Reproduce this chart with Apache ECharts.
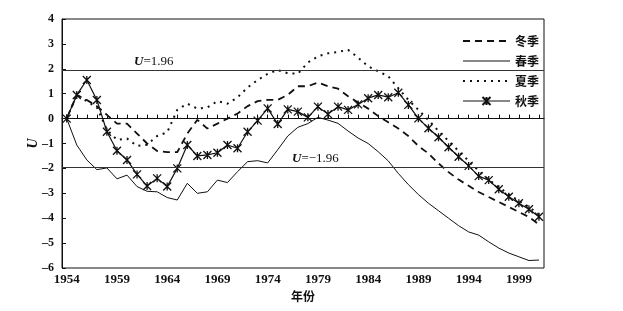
<!DOCTYPE html>
<html>
<head>
<meta charset="utf-8">
<script src="https://cdn.jsdelivr.net/npm/echarts@6/dist/echarts.min.js"></script>
<style>
html, body { margin: 0; padding: 0; background: #fff; }
#chart { width: 623px; height: 311px; }
</style>
</head>
<body>
<div id="chart"></div>
<script>
// 年份 1954-2001
var years = [];
for (var y = 1954; y <= 2001; y++) years.push(y);

var winterU = [0, 0.95, 0.75, 0.5, 0.15, -0.2, -0.2, -0.6, -1.0, -1.3, -1.35, -1.35,
	-0.6, -0.05, -0.4, -0.2, 0.0, 0.2, 0.5, 0.7, 0.75, 0.75, 0.95, 1.3,
	1.3, 1.45, 1.3, 1.2, 0.9, 0.65, 0.4, 0.1, -0.15, -0.4, -0.7, -1.1,
	-1.4, -1.8, -2.15, -2.45, -2.7, -2.95, -3.15, -3.35, -3.55, -3.75, -3.95, -4.25];
var springU = [0, -1.06, -1.66, -2.05, -1.98, -2.42, -2.27, -2.73, -2.92, -2.94, -3.17, -3.27,
	-2.6, -3.0, -2.94, -2.47, -2.57, -2.13, -1.73, -1.69, -1.78, -1.25, -0.7, -0.35,
	-0.2, 0.05, -0.06, -0.19, -0.5, -0.78, -1.0, -1.33, -1.7, -2.2, -2.65, -3.05,
	-3.4, -3.7, -4.0, -4.3, -4.55, -4.68, -4.95, -5.2, -5.4, -5.55, -5.7, -5.68];
var summerU = [0, 0.95, 0.7, 0.45, -0.45, -0.85, -0.8, -1.1, -1.05, -0.7, -0.55, 0.35,
	0.6, 0.4, 0.45, 0.7, 0.6, 0.85, 1.25, 1.55, 1.8, 1.95, 1.82, 1.8,
	2.25, 2.5, 2.62, 2.68, 2.76, 2.45, 2.1, 1.9, 1.7, 1.22, 0.75, 0.35,
	-0.06, -0.5, -0.9, -1.3, -1.7, -2.1, -2.45, -2.75, -3.05, -3.3, -3.55, -3.85];
var autumnU = [0, 0.95, 1.55, 0.75, -0.53, -1.29, -1.66, -2.24, -2.71, -2.4, -2.73, -2.0,
	-1.06, -1.5, -1.46, -1.37, -1.06, -1.19, -0.53, -0.08, 0.41, -0.22, 0.37, 0.28,
	0.05, 0.48, 0.18, 0.48, 0.35, 0.57, 0.82, 0.95, 0.86, 1.04, 0.55, 0.01,
	-0.39, -0.75, -1.15, -1.53, -1.9, -2.31, -2.47, -2.84, -3.14, -3.4, -3.64, -3.94];

var xLabels = [1954, 1959, 1964, 1969, 1974, 1979, 1984, 1989, 1994, 1999];
var critical = [1.96, -1.96];

function pairs(vals) {
	var out = [];
	for (var i = 0; i < vals.length; i++) out.push([years[i], vals[i]]);
	return out;
}

var serif = '"Liberation Serif", "DejaVu Serif", serif';
var cjk = '"Noto Sans CJK SC", sans-serif';
var ink = '#111';
var noMark = { color: 'transparent', borderWidth: 0 };

var chart = echarts.init(document.getElementById('chart'));
var option = {
	backgroundColor: '#fff',
	animation: false,
	grid: {
		left: 62, right: 79, top: 19, bottom: 43,
		show: true, borderColor: ink, borderWidth: 1,
		outerBoundsMode: 'none'
	},
	legend: {
		orient: 'vertical',
		left: 457,
		top: 30,
		itemWidth: 47,
		itemHeight: 10,
		itemGap: 8,
		textStyle: { fontFamily: cjk, fontSize: 12, fontWeight: 'bold', color: ink },
		data: [
			{ name: '冬季', itemStyle: noMark },
			{ name: '春季', itemStyle: noMark, lineStyle: { width: 1 } },
			{ name: '夏季', itemStyle: noMark },
			{ name: '秋季', lineStyle: { width: 1 } }
		]
	},
	xAxis: {
		type: 'value',
		min: 1953.53,
		max: 2001.5,
		name: '年份',
		nameLocation: 'middle',
		nameGap: 22,
		nameTextStyle: { fontFamily: cjk, fontSize: 12, fontWeight: 'bold', color: ink },
		splitLine: { show: false },
		axisLine: { lineStyle: { color: ink, width: 1 } },
		axisTick: { inside: true, length: 4, customValues: years, lineStyle: { color: ink } },
		axisLabel: {
			customValues: xLabels,
			margin: 5,
			fontFamily: serif, fontSize: 13, fontWeight: 'bold', color: ink,
			formatter: function (v) { return String(v); }
		}
	},
	yAxis: {
		type: 'value',
		min: -6,
		max: 4,
		interval: 1,
		name: 'U',
		nameLocation: 'middle',
		nameRotate: 90,
		nameGap: 22,
		nameMoveOverlap: false,
		nameTextStyle: { fontFamily: serif, fontSize: 14, fontStyle: 'italic', fontWeight: 'bold', color: ink },
		splitLine: { show: false },
		axisLine: { show: true, lineStyle: { color: ink, width: 1 } },
		axisTick: { show: true, inside: true, length: 4, lineStyle: { color: ink } },
		axisLabel: {
			margin: 8,
			fontFamily: serif, fontSize: 12, fontWeight: 'bold', color: ink,
			formatter: function (v) { return String(v).replace('-', '\u2013'); }
		}
	},
	series: [
		{
			name: '冬季',
			type: 'line',
			symbol: 'none',
			data: pairs(winterU),
			lineStyle: { color: ink, width: 1.8, type: [7, 5] },
			itemStyle: { color: ink },
			markLine: {
				silent: true,
				symbol: 'none',
				lineStyle: { color: '#333', width: 1, type: 'solid' },
				label: {
					position: 'insideStartTop',
					fontFamily: serif, fontSize: 13, color: ink,
					rich: { i: { fontFamily: serif, fontSize: 13, fontStyle: 'italic', fontWeight: 'bold', color: ink } }
				},
				data: [
					{ yAxis: critical[0], label: { distance: [72, 2], formatter: '{i|U}=' + critical[0] } },
					{ yAxis: critical[1], label: { distance: [230, 2], formatter: '{i|U}=\u2212' + Math.abs(critical[1]) } }
				]
			}
		},
		{
			name: '春季',
			type: 'line',
			symbol: 'none',
			data: pairs(springU),
			lineStyle: { color: ink, width: 1, type: 'solid' },
			itemStyle: { color: ink }
		},
		{
			name: '夏季',
			type: 'line',
			symbol: 'none',
			data: pairs(summerU),
			lineStyle: { color: ink, width: 2, type: [2, 5] },
			itemStyle: { color: ink }
		},
		{
			name: '秋季',
			type: 'line',
			symbol: 'path://M0,0L10,10M10,0L0,10M5,0L5,10',
			symbolSize: 8,
			showAllSymbol: true,
			data: pairs(autumnU),
			lineStyle: { color: ink, width: 1.2, type: 'solid' },
			itemStyle: { color: 'transparent', borderColor: ink, borderWidth: 1.3 }
		}
	]
};
chart.setOption(option);
</script>
</body>
</html>
